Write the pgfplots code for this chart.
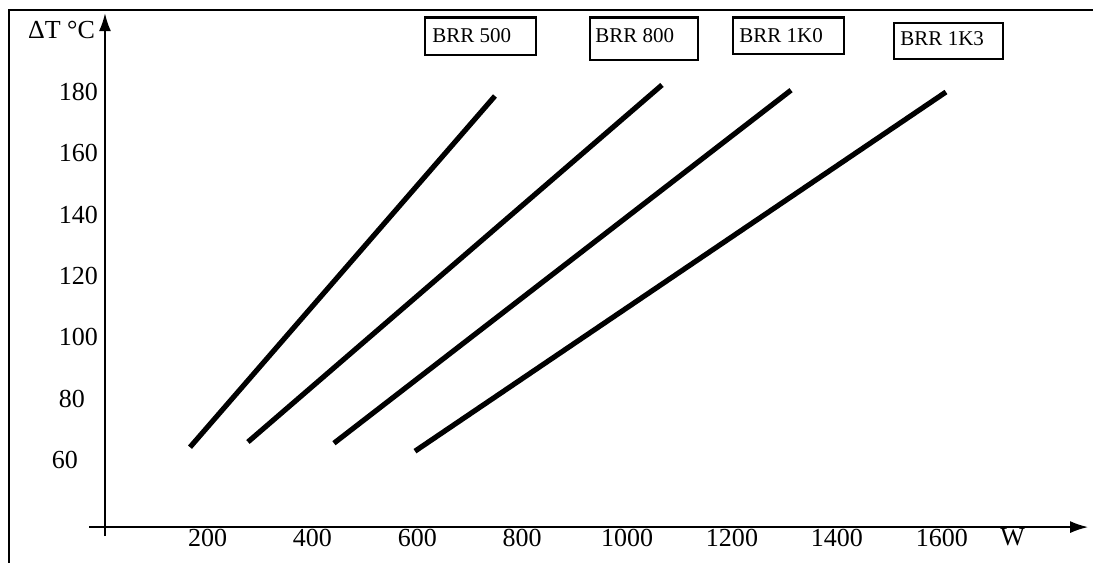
\documentclass[border=0pt]{standalone}
\usepackage{fontspec}
\setmainfont{Liberation Serif}
\usepackage{pgfplots}
\pgfplotsset{compat=1.18}
\usetikzlibrary{arrows.meta}

\begin{document}
\begin{tikzpicture}
\begin{axis}[
  x=0.2622pt, y=1.5335pt,
  xmin=4.4, xmax=1879, ymin=38.15, ymax=205.7,
  axis lines=left,
  axis line style={line width=0.85pt, -{Latex[length=9pt,width=6pt]}},
  clip=false,
  no marks,
  xtick={200,400,...,1600},
  xticklabels={200,400,600,800,1000,1200,1400,1600},
  ytick={60,80,...,180},
  yticklabels={60\rule{10pt}{0pt},80\rule{6.5pt}{0pt},100,120,140,160,180},
  major tick length=0pt,
  tick label style={font=\fontsize{13}{15}\selectfont},
  xticklabel style={yshift=2.5pt},
]
% BRR 500, 800, 1K0, 1K3
\addplot[black, line width=2.6pt] coordinates {(166.5,64.2) (748,178.7)};
\addplot[black, line width=2.6pt] coordinates {(277,65.9) (1066.5,182.3)};
\addplot[black, line width=2.6pt] coordinates {(441,65.5) (1312.6,180.6)};
\addplot[black, line width=2.6pt] coordinates {(595.5,62.9) (1608,180)};

% axis overhangs
\draw[line width=0.85pt] (axis cs:-26,38.15) -- (axis cs:4.4,38.15);
\draw[line width=0.85pt] (axis cs:4.4,35.2) -- (axis cs:4.4,38.15);

\node[anchor=base east, inner sep=0, font=\fontsize{13}{15}\selectfont] at (axis cs:-14,197.6) {ΔT °C};
\node[anchor=base west, inner sep=0, font=\fontsize{13}{15}\selectfont] at (axis cs:1711,32) {W};

% series boxes
\draw[line width=1.3pt] (axis cs:614.9,204.2) rectangle (axis cs:826.6,192.05);
\node[anchor=base west, inner sep=0, font=\fontsize{10.5}{12}\selectfont] at (axis cs:628,196.3) {BRR 500};
\draw[line width=1.3pt] (axis cs:929.3,204.2) rectangle (axis cs:1135.1,190.4);
\node[anchor=base west, inner sep=0, font=\fontsize{10.5}{12}\selectfont] at (axis cs:938.8,196.3) {BRR 800};
\draw[line width=1.3pt] (axis cs:1202,204.2) rectangle (axis cs:1413.8,192.4);
\node[anchor=base west, inner sep=0, font=\fontsize{10.5}{12}\selectfont] at (axis cs:1213.4,196.3) {BRR 1K0};
\draw[line width=1.3pt] (axis cs:1509,202.5) rectangle (axis cs:1716.8,190.7);
\node[anchor=base west, inner sep=0, font=\fontsize{10.5}{12}\selectfont] at (axis cs:1520.5,195.3) {BRR 1K3};

% outer frame
\draw[line width=1.2pt] (axis cs:-178.7,25) -- (axis cs:-178.7,206.7) -- (axis cs:1895,206.7);

\coordinate (bbsw) at (axis cs:-195.8,26.7);
\coordinate (bbne) at (axis cs:1888.4,210);
\end{axis}
\pgfresetboundingbox
\path[use as bounding box] (bbsw) rectangle (bbne);
\end{tikzpicture}
\end{document}
